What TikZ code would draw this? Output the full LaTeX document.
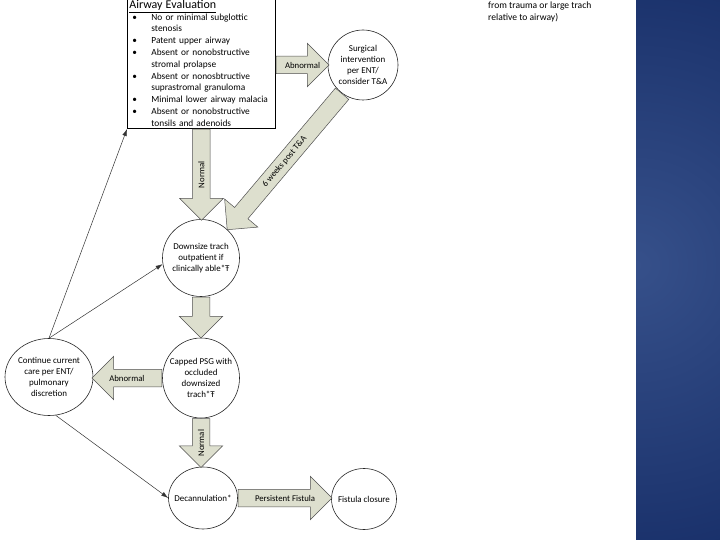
\documentclass[tikz,border=0pt]{standalone}
\usepackage{fontspec}
\setmainfont{Carlito}
\usetikzlibrary{arrows.meta,shapes.arrows,shapes.geometric,calc,positioning}

\definecolor{arrowfill}{RGB}{221,223,206}
\definecolor{arrowline}{RGB}{80,80,80}
\definecolor{paneldark}{RGB}{12,34,92}
\definecolor{panellight}{RGB}{54,80,138}

\newcommand{\bul}{\makebox[22bp][l]{\hspace{3bp}\textbullet}}
\newcommand{\ind}{\hspace*{22bp}}

\tikzset{
  stage/.style={draw=black!85, line width=0.6bp, ellipse, inner sep=0pt},
  stagetext/.style={align=center, inner sep=0pt, font=\fontsize{9}{11.3}\selectfont},
  blockarrow/.style={single arrow, draw=arrowline, line width=0.5bp, fill=arrowfill,
    inner sep=8.5bp, minimum width=43bp, single arrow head extend=13bp, anchor=tail},
  arrowtext/.style={font=\fontsize{8.8}{10}\selectfont, inner sep=0pt},
  pointer/.style={draw=black!80, line width=0.5bp, -{Latex[length=7bp,width=4.5bp]}}
}

\begin{document}
\begin{tikzpicture}[x=1bp, y=-1bp]
    \useasboundingbox (0,0) rectangle (720,540);
    \fill[white] (0,0) rectangle (720,540);

    % side panel
    \begin{scope}
        \clip (636,0) rectangle (720,540);
        \shade[inner color=panellight, outer color=paneldark] (636,265) circle (430);
    \end{scope}

    % airway evaluation box
    \node[draw, line width=0.8bp, anchor=south west, text width=144bp, inner xsep=2bp, inner ysep=2.5bp,
          align=left, font=\fontsize{9.4}{11.8}\selectfont] (airway) at (127,129) {%
        {\fontsize{12}{11.8}\selectfont\underline{Airway Evaluation}}\\
        \bul No or minimal subglottic\\ \ind stenosis\\
        \bul Patent upper airway\\
        \bul Absent or nonobstructive\\ \ind stromal prolapse\\
        \bul Absent or nonosbtructive\\ \ind suprastromal granuloma\\
        \bul Minimal lower airway malacia\\
        \bul Absent or nonobstructive\\ \ind tonsils and adenoids};

    % note at top right
    \node[anchor=north west, inner sep=0pt, align=left, font=\fontsize{9.6}{12}\selectfont] (note) at (488,1.5)
        {from trauma or large trach\\relative to airway)};

    % stages
    \node[stage, minimum width=70bp, minimum height=70bp,
          label={[stagetext]center:Surgical\\intervention\\per ENT/\\consider T\&A}] (surg) at (363,65) {};
    \node[stage, minimum width=77bp, minimum height=77bp,
          label={[stagetext]center:Downsize trach\\outpatient if\\clinically able*Ŧ}] (downsize) at (201,258) {};
    \node[stage, minimum width=77bp, minimum height=80bp,
          label={[stagetext]center:Capped PSG with\\occluded\\downsized\\trach*Ŧ}] (capped) at (201,378) {};
    \node[stage, minimum width=88bp, minimum height=77bp,
          label={[stagetext]center:Continue current\\care per ENT/\\pulmonary\\discretion}] (cont) at (49,377) {};
    \node[stage, minimum width=69bp, minimum height=62bp,
          label={[stagetext]center:Decannulation*}] (decan) at (203,498) {};
    \node[stage, minimum width=65bp, minimum height=61bp,
          label={[stagetext]center:Fistula closure}] (fistula) at (364,499) {};

    % block arrows
    \node[blockarrow, minimum height=53bp] (abn1) at (airway.east |- surg) {};
    \node[blockarrow, rotate=-90, minimum height=91bp] (nrm1) at (airway.south) {};
    \node[blockarrow, rotate=-130.2, minimum height=178bp] (wks) at (surg.234) {};
    \node[blockarrow, rotate=-90, minimum height=41bp] (dwn) at (downsize.south) {};
    \node[blockarrow, rotate=180, minimum height=70bp] (abn2) at (capped.west) {};
    \node[blockarrow, rotate=-90, minimum height=49bp] (nrm2) at (capped.south) {};
    \node[blockarrow, minimum height=94bp] (pers) at (decan.east) {};

    \node[arrowtext] at ($(abn1.tail)!.5!(abn1.tip)$) {Abnormal};
    \node[arrowtext, rotate=90] at ($(nrm1.tail)!.5!(nrm1.tip)$) {Normal};
    \node[arrowtext, rotate=49.8] at ($(wks.tail)!.5!(wks.tip)$) {6 weeks post T\&A};
    \node[arrowtext] at ($(abn2.tail)!.5!(abn2.tip)$) {Abnormal};
    \node[arrowtext, rotate=90] at ($(nrm2.tail)!.5!(nrm2.tip)$) {Normal};
    \node[arrowtext] at ($(pers.tail)!.5!(pers.tip)$) {Persistent Fistula};

    % thin pointers
    \draw[pointer] (cont.north) -- (airway.south west);
    \draw[pointer] (cont.north) -- (downsize.189);
    \draw[pointer] (cont.280) -- (decan.west);
\end{tikzpicture}
\end{document}
